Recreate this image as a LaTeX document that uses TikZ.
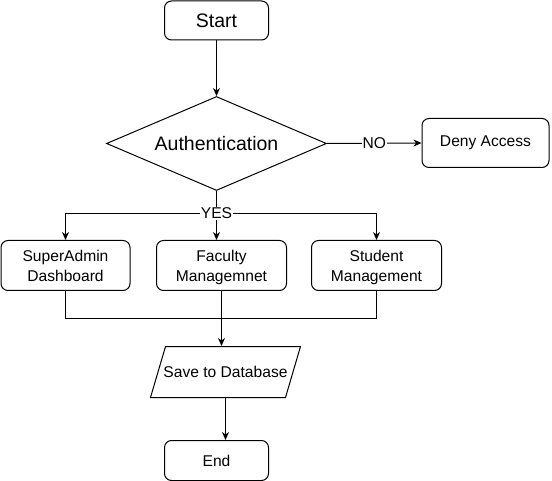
\documentclass[tikz,border=0pt]{standalone}
\usepackage{fontspec}
\setmainfont{Liberation Sans}
\usetikzlibrary{shapes.geometric,arrows.meta}
\begin{document}
\begin{tikzpicture}[x=1pt,y=-1pt,
  line width=1pt,
  txt/.style={font=\fontsize{15.6}{20}\selectfont},
  rbox/.style={draw, rounded corners=7pt, fill=white, inner sep=0pt, align=center, txt},
  decision/.style={draw, diamond, fill=white, inner sep=0pt, aspect=2.34, minimum width=220pt, minimum height=94pt, font=\fontsize{19.5}{23}\selectfont},
  arr/.style={-{Stealth[length=8pt,width=7pt,inset=2.5pt]}},
  lbl/.style={fill=white, inner sep=1pt, txt}
]
\useasboundingbox (0,0) rectangle (552,481);
\node[rbox, minimum width=104pt, minimum height=39pt, font=\fontsize{19.5}{23}\selectfont] (start) at (216.5,20.5) {Start};
\node[decision] (auth) at (216.5,143.5) {Authentication};
\node[rbox, minimum width=127pt, minimum height=49pt] (deny) at (485.5,143) {Deny Access};
\node[rbox, minimum width=129pt, minimum height=50pt, text depth=0pt] (sa) at (65.5,265.5) {SuperAdmin\\Dashboard};
\node[rbox, minimum width=130pt, minimum height=50pt, text depth=0pt] (fac) at (221.5,265.5) {Faculty\\Managemnet};
\node[rbox, minimum width=130pt, minimum height=50pt, text depth=0pt] (st) at (376.5,265.5) {Student\\Management};
\draw[fill=white] (165.5,346.5) -- (300.5,346.5) -- (285.5,397.5) -- (150.5,397.5) -- cycle;
\node[txt, minimum width=135pt, minimum height=51pt, inner sep=0pt] (save) at (225.5,372) {Save to Database};
\node[rbox, minimum width=104pt, minimum height=40pt] (end) at (216.5,460.5) {End};
\coordinate (split) at (216.5,213.5);
\coordinate (merge) at (221.5,318.5);
% connectors
\draw[arr] (start) -- (auth);
\draw[arr] (auth.east) -- node[lbl] {NO} (deny.west);
\draw[arr] (auth.south) -- (split) -| (sa.north);
\draw[arr] (split) -| (st.north);
\draw[arr] (split) -- (split |- fac.north);
\node[lbl] at (split) {YES};
\draw (sa.south) |- (merge);
\draw (st.south) |- (merge);
\draw[arr] (fac.south) -- (fac.south |- save.north);
\draw[arr] (save.south) -- (save.south |- end.north);
\end{tikzpicture}
\end{document}
